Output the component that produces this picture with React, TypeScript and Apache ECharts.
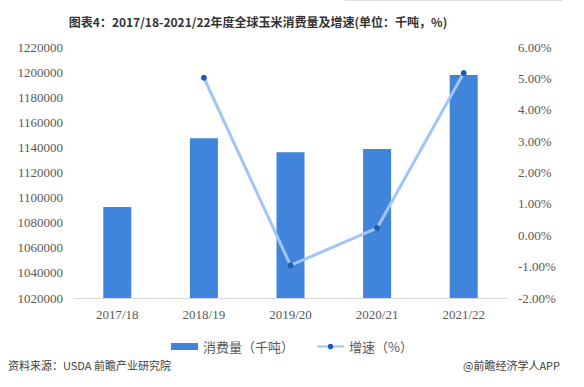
import React, { useEffect, useRef } from "react";
import * as echarts from "echarts";

const categories = ["2017/18", "2018/19", "2019/20", "2020/21", "2021/22"];
const consumption = [1092500, 1147200, 1136100, 1138700, 1197700];
const growth = [null, 5.02, -0.96, 0.23, 5.17];
const titleText = "图表4：2017/18-2021/22年度全球玉米消费量及增速(单位：千吨，%)";
const sourceText = "资料来源：USDA 前瞻产业研究院";
const brandText = "@前瞻经济学人APP";

export default function App() {
  const ref = useRef<HTMLDivElement>(null);
  useEffect(() => {
    document.body.style.margin = "0";
    const chart = echarts.init(ref.current!, null, { renderer: "svg" });
    const serif = "'Liberation Serif', 'Times New Roman', serif";
    const sans = "'Noto Sans CJK SC', 'Noto Sans', sans-serif";
    chart.setOption({
      animation: false,
      backgroundColor: "#ffffff",
      title: {
        text: titleText,
        left: 253,
        textAlign: "center",
        top: 10,
        textStyle: { fontSize: 12, fontWeight: "bold", color: "#333", fontFamily: sans },
      },
      grid: { left: 74, right: 77, top: 47, bottom: 89 },
      legend: {
        top: 335,
        left: "center",
        itemWidth: 27,
        itemHeight: 7,
        itemGap: 22,
        textStyle: { fontSize: 13, color: "#595959", fontFamily: sans },
        data: [
          { name: "消费量（千吨）", icon: "rect" },
          { name: "增速（%）" },
        ],
      },
      xAxis: {
        type: "category",
        data: categories,
        axisLine: { onZero: false, lineStyle: { color: "#d9d9d9" } },
        axisTick: { show: false },
        axisLabel: { fontSize: 13, color: "#595959", fontFamily: serif, margin: 10 },
      },
      yAxis: [
        {
          type: "value",
          min: 1020000,
          max: 1220000,
          interval: 20000,
          splitLine: { show: false },
          axisLine: { show: false },
          axisTick: { show: false },
          axisLabel: {
            fontSize: 13,
            color: "#595959",
            fontFamily: serif,
            margin: 11,
            formatter: (v: number) => String(v),
          },
        },
        {
          type: "value",
          min: -2,
          max: 6,
          interval: 1,
          splitLine: { show: false },
          axisLine: { show: false },
          axisTick: { show: false },
          axisLabel: {
            fontSize: 13,
            color: "#595959",
            fontFamily: serif,
            margin: 11,
            formatter: (v: number) => v.toFixed(2) + "%",
          },
        },
      ],
      series: [
        {
          name: "消费量（千吨）",
          type: "bar",
          data: consumption,
          barWidth: 28,
          itemStyle: { color: "#4084dc" },
        },
        {
          name: "增速（%）",
          type: "line",
          yAxisIndex: 1,
          data: growth,
          symbol: "circle",
          symbolSize: 6,
          lineStyle: { color: "#a2c6f3", width: 3 },
          itemStyle: { color: "#1f5cb0" },
        },
      ],
      graphic: [
        {
          type: "line",
          shape: { x1: 345, y1: 0.5, x2: 562, y2: 0.5 },
          style: { stroke: "#dddddd", lineWidth: 1 },
        },
        {
          type: "text",
          left: 8,
          top: 359,
          style: { text: sourceText, fontSize: 11, fill: "#404040", fontFamily: sans },
        },
        {
          type: "text",
          right: 24,
          top: 359,
          style: { text: brandText, fontSize: 11, fill: "#404040", fontFamily: sans },
        },
      ],
    });
    return () => chart.dispose();
  }, []);
  return <div ref={ref} style={{ width: 584, height: 387 }} />;
}
